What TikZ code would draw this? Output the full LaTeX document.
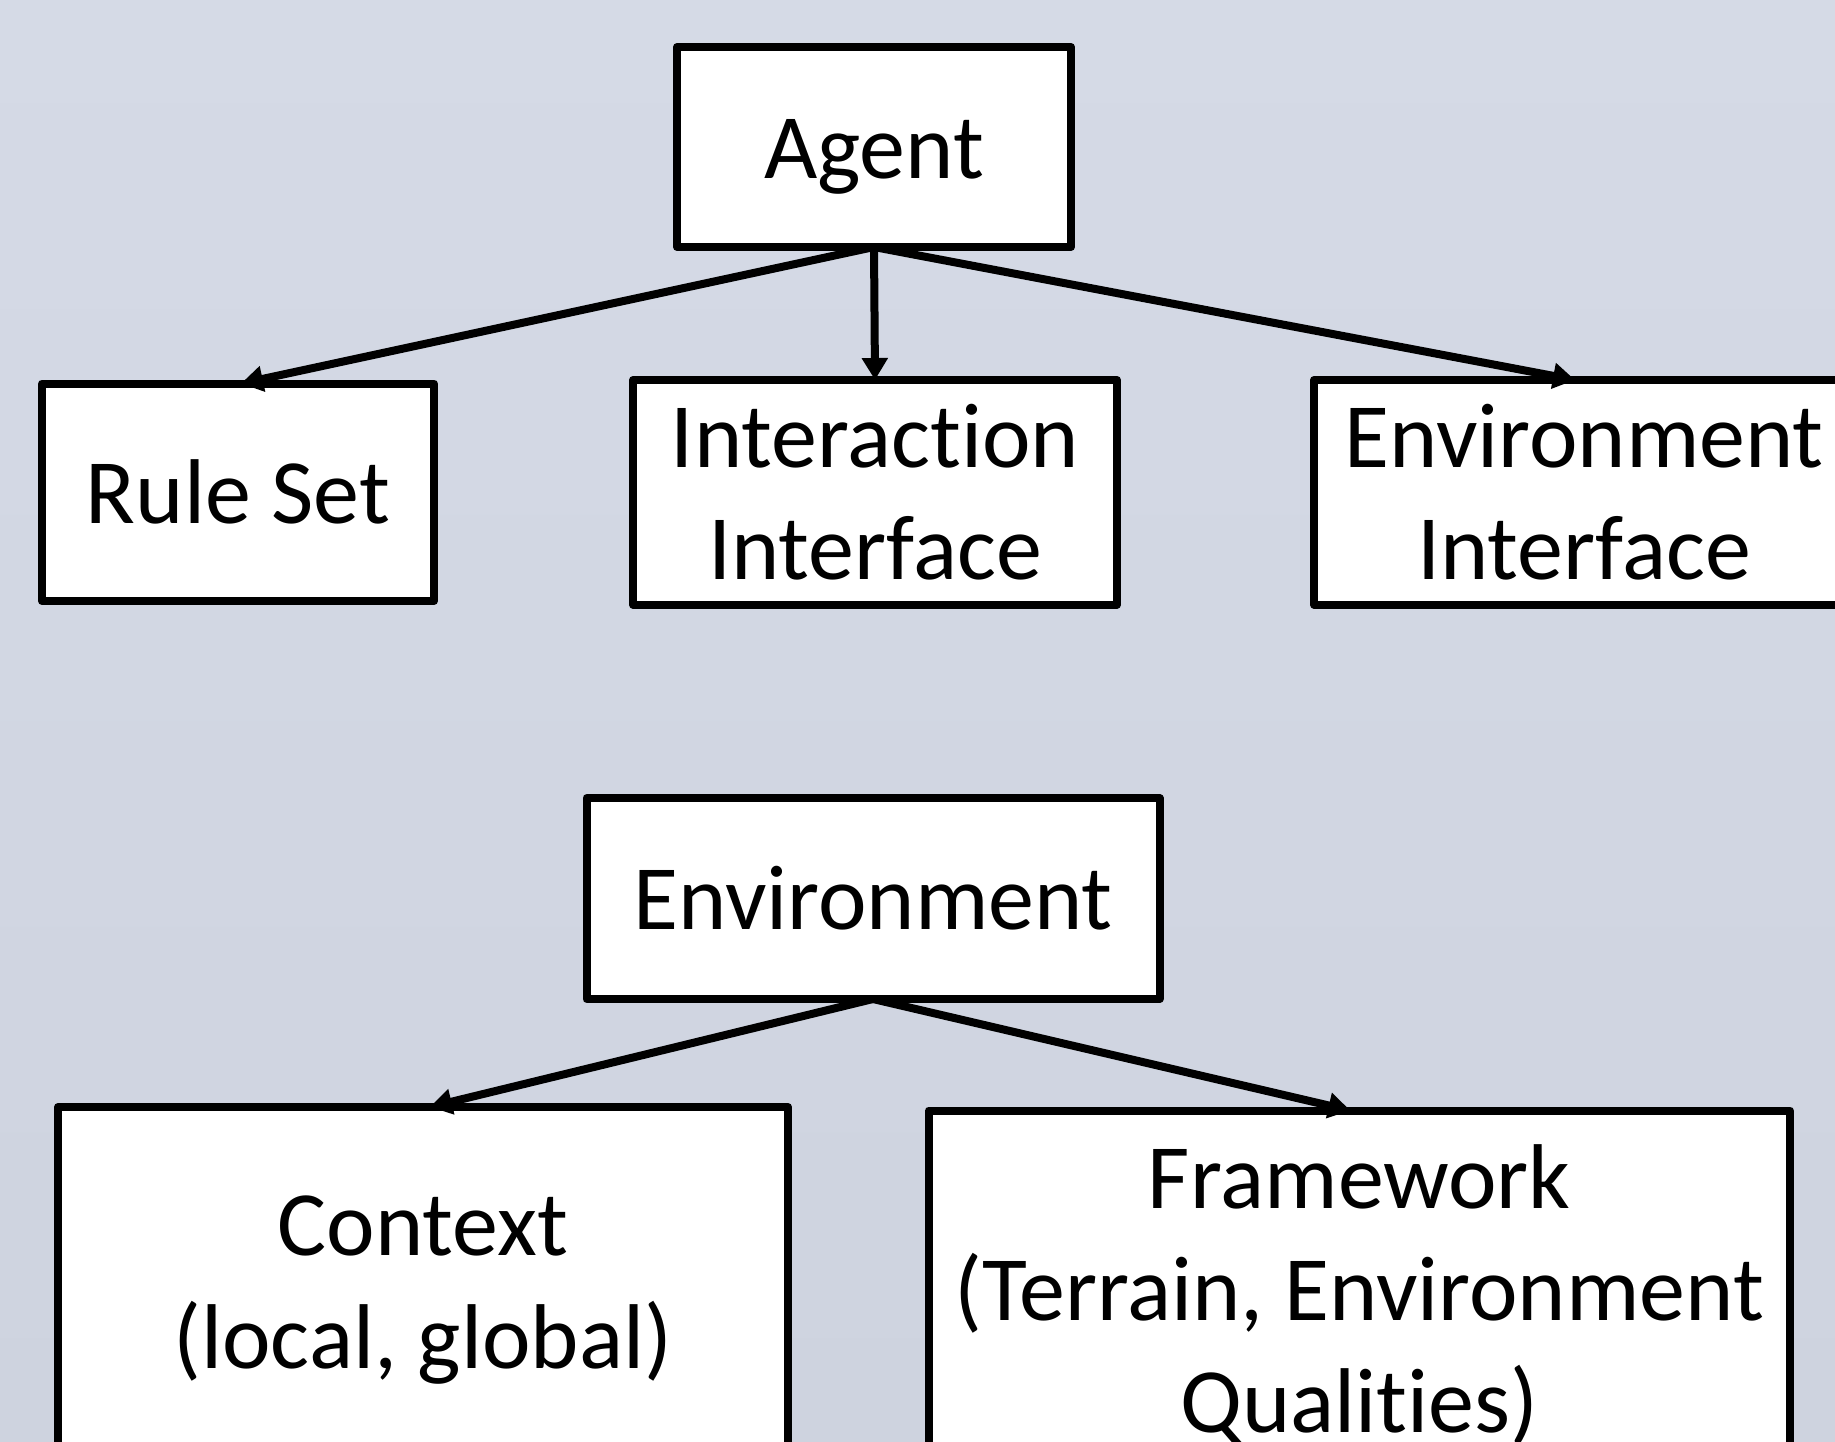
\documentclass[tikz,border=0pt]{standalone}
\usepackage{fontspec}
\setmainfont{Carlito}[Ligatures={NoCommon}, RawFeature={-liga;-clig;-dlig}]
\usetikzlibrary{arrows.meta}
\definecolor{bgtop}{RGB}{213,218,230}
\definecolor{bgbot}{RGB}{206,211,223}
\newcommand\pptline[1]{\rule[-0.269em]{0pt}{1.221em}#1}
\newcommand\pptbox[1]{\renewcommand\arraystretch{0.5}\begin{tabular}{@{}c@{}}#1\end{tabular}}
\begin{document}
\begin{tikzpicture}[x=1pt,y=-1pt,
  box/.style={draw=black, fill=white, line width=8pt, line join=round,
    inner sep=0pt, outer sep=0pt, font=\fontsize{92}{112.3}\selectfont},
  conn/.style={line width=8pt, -{Triangle[length=22pt,width=25pt]}}]
\useasboundingbox (0,0) rectangle (1835,1441);
\clip (0,0) rectangle (1835,1441);
\shade[top color=bgtop, bottom color=bgbot] (0,0) rectangle (1835,1441);

\node[box, minimum width=394pt, minimum height=200pt] (agent) at (874,147)
  {\pptbox{\pptline{Agent}}};
\node[box, minimum width=392pt, minimum height=217.5pt] (rule) at (238,492.3)
  {\pptbox{\pptline{Rule Set}}};
\node[box, minimum width=484pt, minimum height=217.5pt] (inter) at (875,492.3)
  {\pptbox{\pptline{Interaction}\\\pptline{Interface}}};
\node[box, minimum width=540pt, minimum height=217.5pt] (envint) at (1584,492.3)
  {\pptbox{\pptline{Environment}\\\pptline{Interface}}};

\node[box, minimum width=573pt, minimum height=201pt] (envr) at (873,898.5)
  {\pptbox{\pptline{Environment}}};
\node[box, minimum width=730pt, minimum height=347.5pt] (context) at (423,1280.7)
  {\pptbox{\pptline{Context}\\\pptline{(local, global)}}};
\node[box, minimum width=861.5pt, minimum height=357pt] (frame) at (1359.3,1289)
  {\pptbox{\pptline{Framework}\\\pptline{(Terrain, Environment}\\\pptline{Qualities)}}};

\draw[conn] (agent.south) -- ([xshift=3pt]rule.north);
\draw[conn] (agent.south) -- (inter.north);
\draw[conn] (agent.south) -- ([xshift=-9pt]envint.north);
\draw[conn] (envr.south) -- ([xshift=7pt]context.north);
\draw[conn] (envr.south) -- ([xshift=-9pt]frame.north);
\end{tikzpicture}
\end{document}
